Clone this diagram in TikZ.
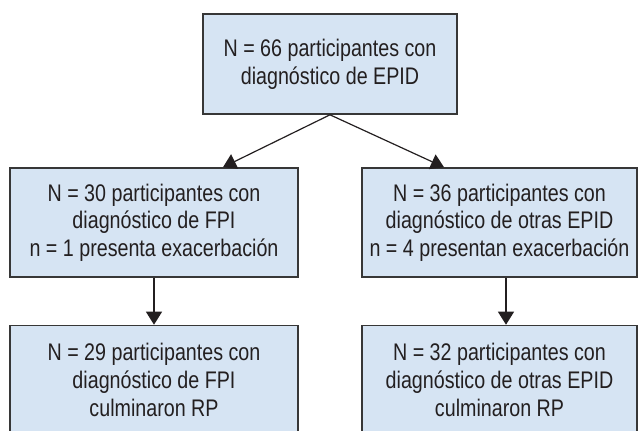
\documentclass[tikz,border=0pt]{standalone}
\usepackage{fontspec}
\setmainfont[FakeStretch=0.82]{Liberation Sans}
\usepackage{tikz}
\usetikzlibrary{arrows.meta}

\definecolor{boxfill}{RGB}{214,228,243}
\definecolor{boxline}{RGB}{55,55,55}
\definecolor{txt}{RGB}{35,31,32}

\tikzset{
  box/.style={draw=boxline, fill=boxfill, line width=0.8pt, rectangle,
    align=center, inner sep=0pt, text=txt,
    font=\fontsize{12}{13.8}\selectfont},
  flow/.style={draw=txt, line width=0.6pt, -{Triangle[width=8pt,length=6.5pt]}}
}

\begin{document}
\begin{tikzpicture}[x=0.5pt,y=-0.5pt]
\useasboundingbox (0,0) rectangle (638,430);

  \node[box, minimum width=127pt, minimum height=50pt] (Total) at
  (330,64) {N = 66 participantes con\\ diagnóstico de EPID};

  \node[box, minimum width=144pt, minimum height=54.5pt] (FPI) at
  (154,222.5) {N = 30 participantes con\\ diagnóstico de FPI\\
    n = 1 presenta exacerbación};
  \node[box, minimum width=137.5pt, minimum height=54.5pt] (Otras) at
  (499.5,222.5) {N = 36 participantes con\\ diagnóstico de otras EPID\\
    n = 4 presentan exacerbación};

  \node[box, minimum width=144pt, minimum height=54.5pt] (FPIRP) at
  (154,380) {N = 29 participantes con\\ diagnóstico de FPI\\ culminaron RP};
  \node[box, minimum width=137.5pt, minimum height=54.5pt] (OtrasRP) at
  (499.5,380) {N = 32 participantes con\\ diagnóstico de otras EPID\\
    culminaron RP};

\draw[flow] (Total.south) -- ([xshift=34.5pt]FPI.north);
\draw[flow] (Total.south) -- ([xshift=-27.75pt]Otras.north);
\draw[flow] (FPI.south) -- (FPIRP.north);
\draw[flow] ([xshift=3.25pt]Otras.south) -- ([xshift=3.25pt]OtrasRP.north);

\end{tikzpicture}
\end{document}
